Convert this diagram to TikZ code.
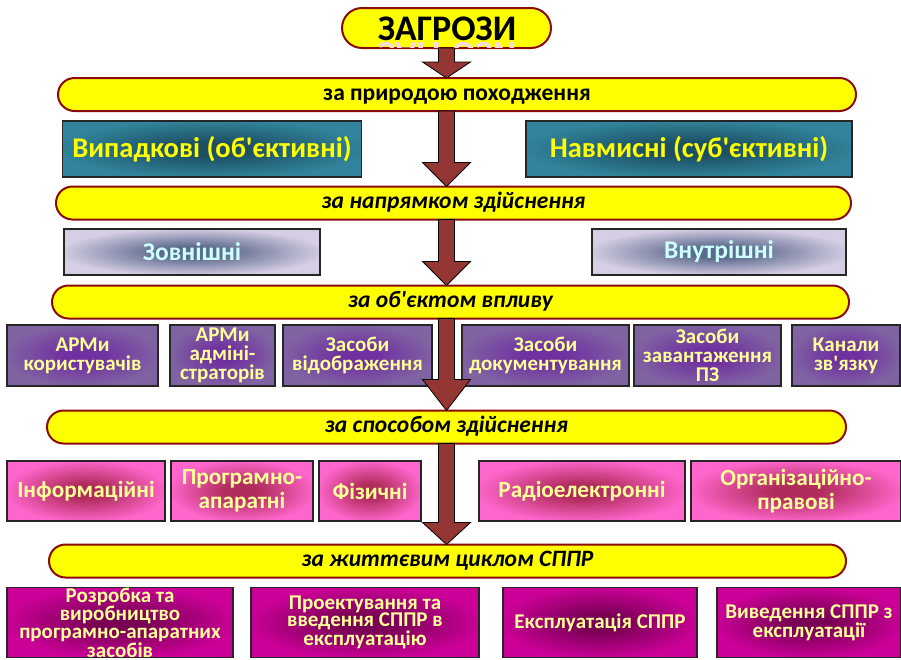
\documentclass[tikz,border=0pt]{standalone}
\usepackage{fontspec}
\newfontfamily\cf{Carlito}
\usetikzlibrary{calc}
\definecolor{barY}{HTML}{FFFF00}
\definecolor{barB}{HTML}{8B0A0A}
\definecolor{arrF}{HTML}{943634}
\definecolor{tealOut}{HTML}{31849B}
\definecolor{tealIn}{HTML}{1C4F63}
\definecolor{lavOut}{HTML}{D6CEE4}
\definecolor{lavIn}{HTML}{5C6A8C}
\definecolor{purOut}{HTML}{8064A2}
\definecolor{purIn}{HTML}{7030A0}
\definecolor{pinkOut}{HTML}{FF66CC}
\definecolor{pinkIn}{HTML}{B02C5C}
\definecolor{magOut}{HTML}{CC0099}
\definecolor{magIn}{HTML}{7A0055}
\definecolor{txtY}{HTML}{FFFF99}
\definecolor{txtC}{HTML}{CCFFFF}
\definecolor{reflP}{HTML}{F8DADA}
\pgfdeclareradialshading{tealglow}{\pgfpoint{0bp}{0bp}}{color(0bp)=(tealIn); color(6bp)=(tealIn); color(26bp)=(tealOut); color(50bp)=(tealOut)}
\pgfdeclareradialshading{lavglow}{\pgfpoint{0bp}{0bp}}{color(0bp)=(lavIn); color(6bp)=(lavIn); color(26bp)=(lavOut); color(50bp)=(lavOut)}
\pgfdeclareradialshading{purglow}{\pgfpoint{0bp}{0bp}}{color(0bp)=(purIn); color(6bp)=(purIn); color(26bp)=(purOut); color(50bp)=(purOut)}
\pgfdeclareradialshading{pinkglow}{\pgfpoint{0bp}{0bp}}{color(0bp)=(pinkIn); color(6bp)=(pinkIn); color(26bp)=(pinkOut); color(50bp)=(pinkOut)}
\pgfdeclareradialshading{magglow}{\pgfpoint{0bp}{0bp}}{color(0bp)=(magIn); color(6bp)=(magIn); color(26bp)=(magOut); color(50bp)=(magOut)}
\newcommand{\thrarrow}[3]{%
  \draw[arrowshape] ($(zag.south |- #1.south)+(-8,0)$) -- ($(zag.south |- #2.north)+(-8,-#3)$)
    -- ($(zag.south |- #2.north)+(-24,-#3)$) -- (zag.south |- #2.north)
    -- ($(zag.south |- #2.north)+(24,-#3)$) -- ($(zag.south |- #2.north)+(8,-#3)$)
    -- ($(zag.south |- #1.south)+(8,0)$) -- cycle;}
\begin{document}
\begin{tikzpicture}[x=1pt,y=-1pt,
  bar/.style={draw=barB, line width=2pt, fill=barY, rounded corners=16.5pt, inner sep=0pt, outer sep=0pt,
    text height=14pt, text depth=3pt,
    font=\cf\bfseries\fontsize{23.5}{25}\selectfont, text=black},
  ibar/.style={bar, font=\cf\bfseries\itshape\fontsize{23.5}{25}\selectfont},
  box/.style={draw=black!85, line width=1.2pt, inner sep=0pt, outer sep=0pt, align=center},
  tealbox/.style={box, shading=tealglow, text=barY, font=\cf\bfseries\fontsize{28.5}{30}\selectfont},
  lavbox/.style={box, shading=lavglow, text=txtC, font=\cf\bfseries\fontsize{25.5}{27}\selectfont},
  purbox/.style={box, shading=purglow, text=txtY, font=\cf\bfseries\fontsize{21}{19}\selectfont},
  pinkbox/.style={box, shading=pinkglow, text=txtY, font=\cf\bfseries\fontsize{23.2}{24}\selectfont},
  magbox/.style={box, shading=magglow, text=txtY, font=\cf\bfseries\fontsize{21}{17.5}\selectfont},
  arrowshape/.style={draw=black, line width=0.8pt, fill=arrF, line join=miter}
]
\useasboundingbox (0,0) rectangle (901,659);
\fill[white] (0,0) rectangle (901,659);

% title
\node[draw=barB, line width=2pt, fill=barY, rounded corners=20pt, minimum width=209pt, minimum height=40pt,
  inner sep=0pt, outer sep=0pt] (zag) at (446.5,28) {};
\begin{scope}
  \clip[rounded corners=19pt] (343,9) rectangle (550,47);
  \node[text=reflP, font=\cf\bfseries\fontsize{36}{38}\selectfont, yscale=-1, transform shape, anchor=base, inner sep=0pt]
    (zagr) at (447,42) {ЗАГРОЗИ};
\end{scope}
\node[font=\cf\bfseries\fontsize{36}{38}\selectfont, inner sep=0pt, anchor=base] (zagt) at (447,40.5) {ЗАГРОЗИ};

% bars
\node[bar, minimum width=798pt, minimum height=33pt] (b1) at (457,94.5) {за природою походження};
\node[ibar, minimum width=795pt, minimum height=33pt] (b2) at (453.5,203) {за напрямком здійснення};
\node[ibar, minimum width=797pt, minimum height=33pt] (b3) at (450.5,302) {за об'єктом впливу};
\node[ibar, minimum width=799pt, minimum height=33pt] (b4) at (446.5,427) {за способом здійснення};
\node[ibar, minimum width=797pt, minimum height=33pt] (b5) at (447.5,561) {за життєвим циклом СППР};

% row 1
\node[tealbox, minimum width=299pt, minimum height=56pt] (r1a) at (212,149) {Випадкові (об'єктивні)};
\node[tealbox, minimum width=326pt, minimum height=56pt] (r1b) at (689,149) {Навмисні (суб'єктивні)};

% row 2
\node[lavbox, minimum width=256pt, minimum height=46pt] (r2a) at (192,252) {Зовнішні};
\node[lavbox, minimum width=254pt, minimum height=46pt] (r2b) at (719,252) {Внутрішні};

% row 3
\node[purbox, minimum width=151pt, minimum height=61pt] (r3a) at (82.5,355.5) {АРМи\\користувачів};
\node[purbox, minimum width=105pt, minimum height=61pt] (r3b) at (222.5,355.5) {АРМи\\адміні-\\страторів};
\node[purbox, minimum width=149pt, minimum height=61pt] (r3c) at (357.5,355.5) {Засоби\\відображення};
\node[purbox, minimum width=167pt, minimum height=61pt] (r3d) at (545.5,355.5) {Засоби\\документування};
\node[purbox, minimum width=147pt, minimum height=61pt] (r3e) at (707.5,355.5) {Засоби\\завантаження\\ПЗ};
\node[purbox, minimum width=108pt, minimum height=61pt] (r3f) at (846,355.5) {Канали\\зв'язку};

% row 4
\node[pinkbox, minimum width=158pt, minimum height=60pt] (r4a) at (86,491) {Інформаційні};
\node[pinkbox, minimum width=142pt, minimum height=60pt] (r4b) at (242,491) {Програмно-\\апаратні};
\node[pinkbox, minimum width=102pt, minimum height=60pt] (r4c) at (370,491) {Фізичні};
\node[pinkbox, minimum width=206pt, minimum height=60pt] (r4d) at (582,491) {Радіоелектронні};
\node[pinkbox, minimum width=210pt, minimum height=60pt] (r4e) at (796,491) {Організаційно-\\правові};

% row 5
\node[magbox, minimum width=226pt, minimum height=70pt] (r5a) at (120,622.5) {Розробка та\\виробництво\\програмно-апаратних\\засобів};
\node[magbox, minimum width=228pt, minimum height=70pt] (r5b) at (365,622.5) {Проектування та\\введення СППР в\\експлуатацію};
\node[magbox, minimum width=194pt, minimum height=70pt] (r5c) at (600,622.5) {Експлуатація СППР};
\node[magbox, minimum width=184pt, minimum height=70pt] (r5d) at (809,622.5) {Виведення СППР з\\експлуатації};

% arrows
\thrarrow{zag}{b1}{16}
\thrarrow{b1}{b2}{24}
\thrarrow{b2}{b3}{24}
\thrarrow{b3}{b4}{31}
\thrarrow{b4}{b5}{22}
\end{tikzpicture}
\end{document}
